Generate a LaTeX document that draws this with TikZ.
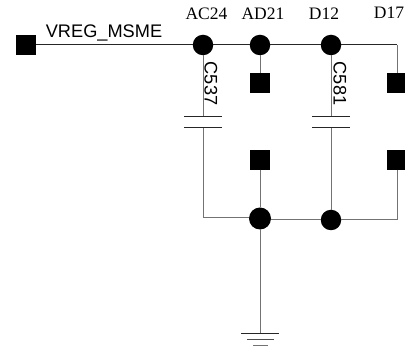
\documentclass[tikz,border=0pt]{standalone}
\usepackage{fontspec}
\setmainfont{Liberation Serif}
\newfontfamily\arialfont{Liberation Sans}
\tikzset{
  wire/.style={draw=black!55,line width=1pt},
  topwire/.style={draw=black!85,line width=1pt},
  plate/.style={draw=black!85,line width=0.9pt},
  pad/.style={fill=black,draw=none,minimum size=20pt,inner sep=0pt,outer sep=0pt,rectangle},
  junction/.style={fill=black,draw=none,circle,minimum size=20.5pt,inner sep=0pt,outer sep=0pt},
  pin/.style={font=\fontsize{17.5}{19}\selectfont,inner sep=0pt,anchor=center},
  sanslabel/.style={font=\arialfont\fontsize{18.2}{20}\selectfont,inner sep=0pt,anchor=center},
}
\begin{document}
\begin{tikzpicture}[x=1pt,y=-1pt]
\useasboundingbox (0,0) rectangle (405,347);
\coordinate (cornerR) at (397,45);
\coordinate (capAtop) at (203,116);
\coordinate (capAbot) at (203,127);
\coordinate (capBtop) at (331,116);
\coordinate (capBbot) at (331,127);
\coordinate (cornerL) at (203,218);
\coordinate (cornerB) at (397,220);
\coordinate (gnd) at (260,333);
\node[pad] (src) at (26,45) {};
\node[pad] (p1) at (260,83) {};
\node[pad] (p2) at (397,83) {};
\node[pad] (p3) at (260,160) {};
\node[pad] (p4) at (397,160) {};
\node[junction] (j1) at (203,45) {};
\node[junction] (j2) at (260,45) {};
\node[junction] (j3) at (331,45) {};
\node[junction,minimum width=20pt,minimum height=22pt] (j4) at (260,218.5) {};
\node[junction] (j5) at (331,220) {};
\draw[topwire] (src) -- (j1) -- (j2) -- (j3) -- (cornerR);
\draw[wire] (cornerR) -- (p2);
\draw[wire] (j2) -- (p1);
\draw[wire] (j1) -- (capAtop);
\draw[wire] (j3) -- (capBtop);
\draw[wire] (capAbot) -- (cornerL) -- (j4.west |- cornerL);
\draw[wire] (capBbot) -- (j5);
\draw[wire] (p3) -- (j4);
\draw[wire] (p4) -- (cornerB) -- (j5);
\draw[wire] (j5) -- (j4.east |- j5);
\draw[wire] (j4) -- (gnd);
\draw[plate] (184,116) -- (222,116);
\draw[plate] (184,127) -- (222,127);
\draw[plate] (312,116) -- (350,116);
\draw[plate] (312,127) -- (350,127);
\draw[plate] (241,333) -- (279,333);
\draw[plate,draw=black!70] (247,339) -- (274,339);
\draw[plate,draw=black!55] (253,345) -- (268,345);
\node[sanslabel] (vreg) at (104,33) {VREG\_MSME};
\node[pin] (lAC) at (206.5,14) {AC24};
\node[pin] (lAD) at (263,14) {AD21};
\node[pin] (lD1) at (324,14) {D12};
\node[pin] (lD2) at (389,13) {D17};
\node[sanslabel,rotate=-90] (c537) at (211,83.5) {C537};
\node[sanslabel,rotate=-90] (c581) at (340,83.5) {C581};
\end{tikzpicture}
\end{document}
